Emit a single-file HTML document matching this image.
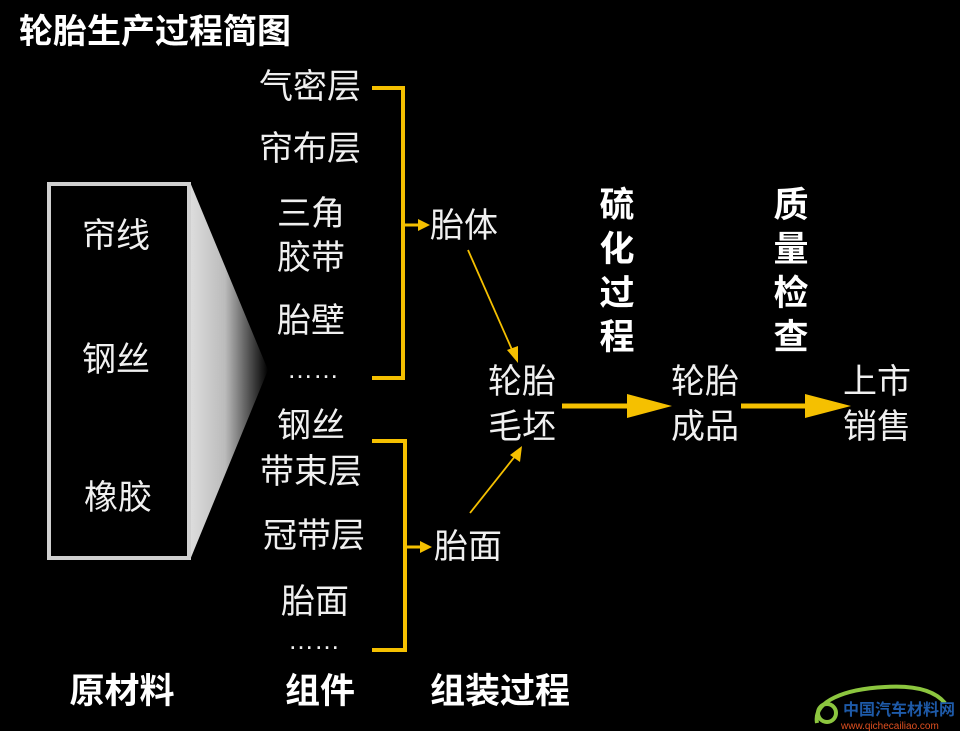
<!DOCTYPE html>
<html><head><meta charset="utf-8"><style>
body{margin:0;width:960px;height:731px;background:#000;overflow:hidden;position:relative;font-family:"Liberation Sans","Noto Sans CJK SC",sans-serif;color:#f0f0f0}
.t{position:absolute;font-size:34px;line-height:1;white-space:nowrap}
.c{transform:translateX(-50%);text-align:center}
.b{font-weight:bold;color:#fff}
.v{position:absolute;font-size:35px;font-weight:bold;color:#fff;line-height:44px;width:44px;text-align:center}
</style></head><body>
<svg width="960" height="731" style="position:absolute;left:0;top:0">
<defs><linearGradient id="g" x1="0" x2="1" y1="0" y2="0"><stop offset="0" stop-color="#ddd"/><stop offset="0.45" stop-color="#bbb"/><stop offset="1" stop-color="#000"/></linearGradient></defs>
<polygon points="190,182 190,560 268,370" fill="url(#g)"/>
<rect x="49" y="184" width="140" height="374" fill="#000" stroke="#d0d0d0" stroke-width="4"/>
<g stroke="#f5c000" stroke-width="4" fill="none">
<polyline points="372,88 403,88 403,378 372,378"/>
<polyline points="372,441 405,441 405,650 372,650"/>
</g>
<g fill="#f5c000" stroke="#f5c000">
<line x1="405" y1="225" x2="420" y2="225" stroke-width="3"/><polygon points="418,219 430,225 418,231" stroke="none"/>
<line x1="407" y1="547" x2="422" y2="547" stroke-width="3"/><polygon points="420,541 432,547 420,553" stroke="none"/>
<line x1="468" y1="250" x2="513" y2="352" stroke-width="1.8"/><polygon points="507,350 518,363 518,346" stroke="none"/>
<line x1="470" y1="513" x2="516" y2="455" stroke-width="1.8"/><polygon points="510,455 522,446 520,462" stroke="none"/>
<line x1="562" y1="406" x2="630" y2="406" stroke-width="5"/><polygon points="627,394 672,406 627,418" stroke="none"/>
<line x1="741" y1="406" x2="808" y2="406" stroke-width="5"/><polygon points="805,394 851,406 805,418" stroke="none"/>
</g>
</svg>
<div class="t b" style="left:19px;top:15px;font-size:34px">轮胎生产过程简图</div>
<div class="t c" style="left:116px;top:219px">帘线</div>
<div class="t c" style="left:116px;top:343px">钢丝</div>
<div class="t c" style="left:118px;top:481px">橡胶</div>
<div class="t c" style="left:310px;top:70px">气密层</div>
<div class="t c" style="left:310px;top:132px">帘布层</div>
<div class="t c" style="left:311px;top:197px">三角</div>
<div class="t c" style="left:311px;top:241px">胶带</div>
<div class="t c" style="left:311px;top:304px">胎壁</div>
<div class="t c" style="left:313px;top:356px;font-size:26px">……</div>
<div class="t c" style="left:311px;top:409px">钢丝</div>
<div class="t c" style="left:311px;top:455px">带束层</div>
<div class="t c" style="left:314px;top:519px">冠带层</div>
<div class="t c" style="left:315px;top:585px">胎面</div>
<div class="t c" style="left:314px;top:627px;font-size:26px">……</div>
<div class="t" style="left:430px;top:209px">胎体</div>
<div class="t" style="left:434px;top:530px">胎面</div>
<div class="t c" style="left:522px;top:365px">轮胎</div>
<div class="t c" style="left:522px;top:410px">毛坯</div>
<div class="t c" style="left:705px;top:365px">轮胎</div>
<div class="t c" style="left:705px;top:410px">成品</div>
<div class="t c" style="left:877px;top:365px">上市</div>
<div class="t c" style="left:877px;top:410px">销售</div>
<div class="v" style="left:595px;top:184px">硫<br>化<br>过<br>程</div>
<div class="v" style="left:769px;top:184px">质<br>量<br>检<br>查</div>
<div class="t b c" style="left:122px;top:674px;font-size:35px">原材料</div>
<div class="t b c" style="left:320px;top:674px;font-size:35px">组件</div>
<div class="t b c" style="left:500px;top:674px;font-size:35px">组装过程</div>
<svg width="160" height="60" style="position:absolute;left:805px;top:671px">
<path d="M12,52 C8,30 40,18 80,16 C110,14 130,20 140,32" stroke="#8cc63f" stroke-width="4" fill="none"/>
<circle cx="22" cy="42" r="9" stroke="#8cc63f" stroke-width="4" fill="none"/>
<text x="38" y="44" font-size="16" font-weight="bold" fill="#1e5aa8" font-family="Noto Sans CJK SC,sans-serif">中国汽车材料网</text>
<text x="36" y="58" font-size="10" fill="#e05020" font-family="Liberation Sans,sans-serif">www.qichecailiao.com</text>
</svg>
</body></html>
